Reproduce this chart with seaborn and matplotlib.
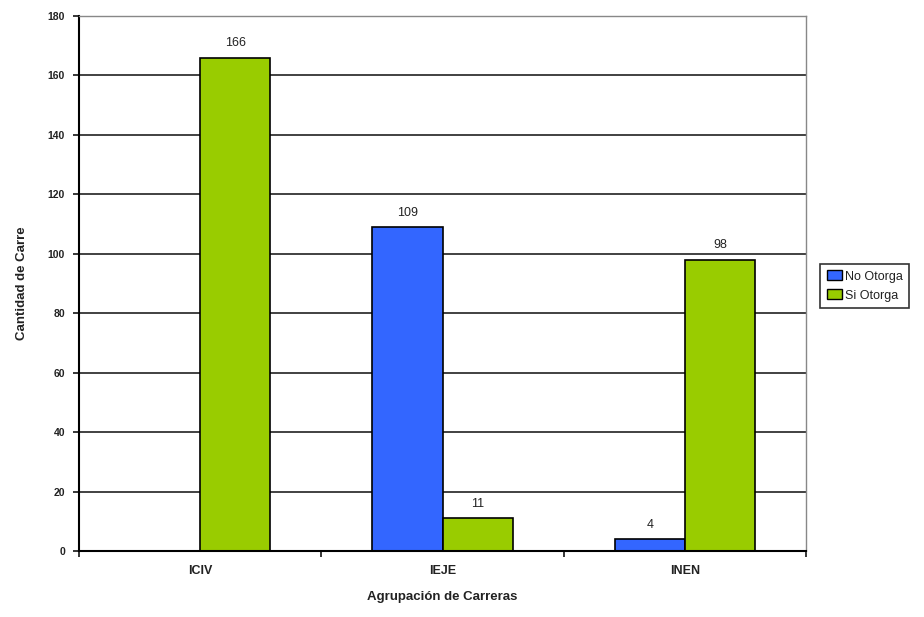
import matplotlib
matplotlib.use("Agg")
import matplotlib.pyplot as plt
import seaborn as sns
import pandas as pd
from matplotlib.ticker import FixedLocator

categories = ["ICIV", "IEJE", "INEN"]
no_otorga = [0, 109, 4]
si_otorga = [166, 11, 98]
series_names = ["No Otorga", "Si Otorga"]
y_ticks = [0, 20, 40, 60, 80, 100, 120, 140, 160, 180]

df = pd.DataFrame({
    "Agrupación": categories * 2,
    "Serie": [series_names[0]] * 3 + [series_names[1]] * 3,
    "Cantidad": no_otorga + si_otorga,
})

sns.set_style("white")
plt.rcParams["font.family"] = ["Liberation Sans", "DejaVu Sans"]

fig = plt.figure(figsize=(9.24, 6.17), dpi=100)
ax = fig.add_axes([79 / 924, 1 - 551 / 617, (806 - 79) / 924, (551 - 16) / 617])

palette = {"No Otorga": "#3366FF", "Si Otorga": "#99CC00"}
sns.barplot(data=df, x="Agrupación", y="Cantidad", hue="Serie", palette=palette,
            width=0.58, edgecolor="black", linewidth=1.2, saturation=1,
            ax=ax, legend=True)

ax.set_ylim(0, 180)
ax.set_xlim(-0.5, 2.5)
ax.set_yticks(y_ticks)
ax.set_yticklabels([str(t) for t in y_ticks], fontsize=7.5, color="#222222",
                   fontweight="bold")
for lbl in ax.get_xticklabels():
    lbl.set_fontweight("bold")
    lbl.set_color("#222222")
ax.yaxis.grid(True, color="#333333", linewidth=1.3)
ax.set_axisbelow(True)
ax.tick_params(axis="y", direction="out", length=4, width=1.3, pad=6, left=True)
ax.tick_params(axis="x", which="major", length=0, labelsize=9, pad=10)
ax.xaxis.set_minor_locator(FixedLocator([-0.5, 0.5, 1.5, 2.5]))
ax.tick_params(axis="x", which="minor", direction="out", length=4, width=1.3, bottom=True)

for side in ["left", "bottom"]:
    ax.spines[side].set_color("black")
    ax.spines[side].set_linewidth(1.5)
for side in ["top", "right"]:
    ax.spines[side].set_visible(True)
    ax.spines[side].set_color("#888888")
    ax.spines[side].set_linewidth(1.0)

for container in ax.containers:
    labels = ["" if v == 0 else f"{v:g}" for v in container.datavalues]
    ax.bar_label(container, labels=labels, padding=6, fontsize=9, color="#222222")

ax.set_xlabel("Agrupación de Carreras", fontsize=9.5, fontweight="bold", labelpad=10, color="#222222")
ax.set_ylabel("Cantidad de Carre", fontsize=9.5, fontweight="bold", labelpad=14, color="#222222")

leg = ax.legend(loc="center left", bbox_to_anchor=(814 / 924, 1 - 286 / 617),
                bbox_transform=fig.transFigure, frameon=True, fontsize=9,
                handlelength=1.2, handleheight=0.8, handletextpad=0.3,
                borderpad=0.5, labelspacing=0.55, fancybox=False)
leg.get_frame().set_edgecolor("black")
leg.get_frame().set_linewidth(1.2)
for t in leg.get_texts():
    t.set_color("#222222")
for h in leg.legend_handles:
    h.set_edgecolor("black")
    h.set_linewidth(1.0)

fig.savefig("out.png", dpi=100, facecolor="white")
